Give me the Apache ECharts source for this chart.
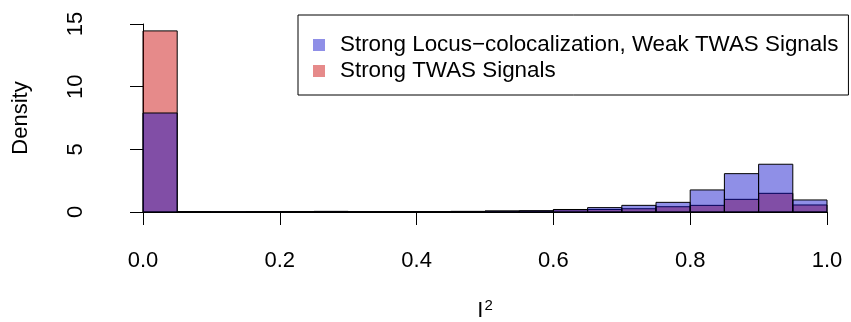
<!DOCTYPE html>
<html>
<head>
<meta charset="utf-8">
<script src="https://cdn.jsdelivr.net/npm/echarts@6/dist/echarts.min.js"></script>
<style>
  html, body { margin: 0; padding: 0; background: #fff; }
  #chart { width: 851px; height: 322px; }
</style>
</head>
<body>
<div id="chart"></div>
<script>
// histogram bins, width 0.05 from 0 to 1
const binStarts = [0, 0.05, 0.1, 0.15, 0.2, 0.25, 0.3, 0.35, 0.4, 0.45,
                   0.5, 0.55, 0.6, 0.65, 0.7, 0.75, 0.8, 0.85, 0.9, 0.95];
const binWidth = 0.05;
const locusDensity = [7.9, 0.02, 0.01, 0.03, 0.04, 0.05, 0.03, 0.03, 0.02, 0.05,
                      0.08, 0.1, 0.2, 0.35, 0.53, 0.77, 1.76, 3.06, 3.81, 0.96];
const twasDensity = [14.45, 0.03, 0.02, 0.02, 0.03, 0.04, 0.02, 0.02, 0.03, 0.04,
                     0.07, 0.08, 0.18, 0.2, 0.26, 0.42, 0.53, 1.01, 1.49, 0.56];
const xTicks = [0, 0.2, 0.4, 0.6, 0.8, 1];
const yTicks = [0, 5, 10, 15];
const names = ["Strong Locus\u2212colocalization, Weak TWAS Signals", "Strong TWAS Signals"];

const FONT = "Liberation Sans";

function toBins(vals) {
  return vals.map((v, i) => [binStarts[i], binStarts[i] + binWidth, v]);
}

function renderBar(params, api) {
  const p0 = api.coord([api.value(0), api.value(2)]);
  const p1 = api.coord([api.value(1), 0]);
  return {
    type: "rect",
    shape: { x: p0[0], y: p0[1], width: p1[0] - p0[0], height: p1[1] - p0[1] },
    style: api.style({ stroke: "#000", lineWidth: 1 })
  };
}

const chart = echarts.init(document.getElementById("chart"));
chart.setOption({
  animation: false,
  textStyle: { fontFamily: FONT },
  grid: { left: 143, right: 24, top: 24, bottom: 110, outerBoundsMode: "none", containLabel: false },
  legend: {
    orient: "vertical",
    left: 298,
    top: 15,
    padding: [19, 10, 13, 15],
    itemGap: 4,
    itemWidth: 12,
    itemHeight: 12,
    icon: "rect",
    borderColor: "#000",
    borderWidth: 1,
    borderRadius: 0,
    selectedMode: false,
    data: names,
    textStyle: { fontSize: 22.4, color: "#000", fontFamily: FONT, padding: [0, 0, 0, 10] }
  },
  xAxis: {
    type: "value",
    min: 0,
    max: 1,
    interval: 0.2,
    offset: 8,
    splitLine: { show: false },
    axisLine: { lineStyle: { color: "#000", width: 1 } },
    axisTick: { length: 13, lineStyle: { color: "#000" } },
    axisLabel: {
      margin: 30,
      fontSize: 22,
      color: "#000",
      fontFamily: FONT,
      formatter: v => xTicks.indexOf(v) >= 0 ? v.toFixed(1) : ""
    },
    name: "{i|I}{s|2}",
    nameLocation: "middle",
    nameGap: 78,
    nameTextStyle: {
      rich: {
        i: { fontSize: 22, color: "#000", fontFamily: FONT },
        s: { fontSize: 15, color: "#000", fontFamily: FONT, verticalAlign: "top", padding: [0, 0, 10, 1] }
      }
    }
  },
  yAxis: {
    type: "value",
    min: 0,
    max: 15,
    interval: 5,
    offset: 27,
    splitLine: { show: false },
    axisLine: { show: true, lineStyle: { color: "#000", width: 1 } },
    axisTick: { show: true, length: 13, lineStyle: { color: "#000" } },
    axisLabel: {
      margin: 29,
      rotate: 90,
      fontSize: 22,
      color: "#000",
      fontFamily: FONT,
      formatter: v => yTicks.indexOf(v) >= 0 ? String(v) : ""
    },
    name: "Density",
    nameLocation: "middle",
    nameGap: 84,
    nameTextStyle: { fontSize: 22, color: "#000", fontFamily: FONT }
  },
  series: [
    {
      name: names[1],
      type: "custom",
      renderItem: renderBar,
      encode: { x: [0, 1], y: 2 },
      itemStyle: { color: "rgba(200,0,0,0.46)" },
      data: toBins(twasDensity),
      z: 2
    },
    {
      name: names[0],
      type: "custom",
      renderItem: renderBar,
      encode: { x: [0, 1], y: 2 },
      itemStyle: { color: "rgba(0,0,200,0.44)" },
      data: toBins(locusDensity),
      z: 3
    }
  ]
});
</script>
</body>
</html>
